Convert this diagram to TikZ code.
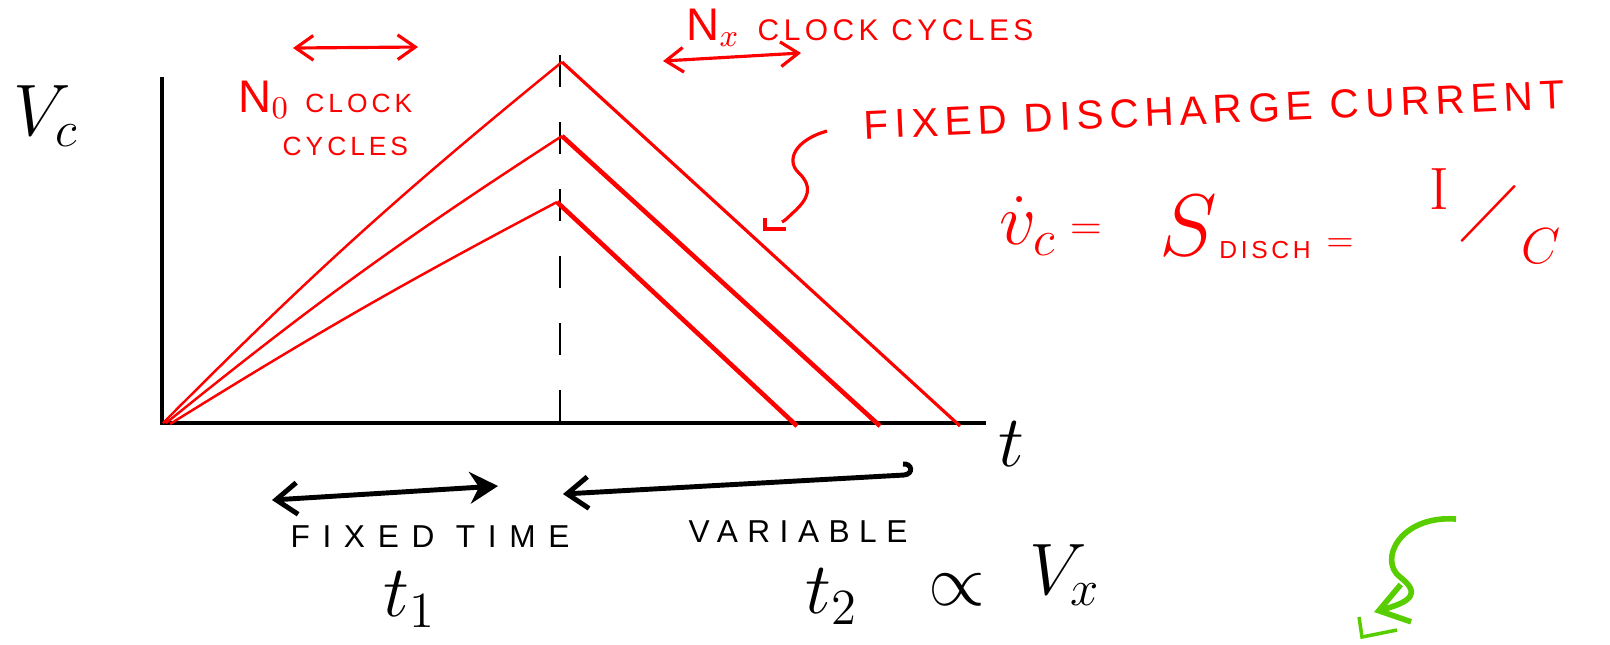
\documentclass[tikz,border=0pt]{standalone}
\usepackage{amsmath}
\usepackage{amssymb}
\usepackage{fontspec}
\newfontfamily\handfont[LetterSpace=15]{Liberation Sans}
\usetikzlibrary{arrows.meta}
\definecolor{penred}{RGB}{255,0,0}
\definecolor{pengreen}{RGB}{88,206,0}
\tikzset{
  axisline/.style={line width=1pt},
  riseline/.style={penred, line width=0.7pt},
  fallline/.style={penred, line width=1.3pt},
  redlabel/.style={text=penred, inner sep=0pt, font=\handfont\fontsize{7.5}{7.5}\selectfont},
  blacklabel/.style={inner sep=0pt, font=\handfont\fontsize{9}{9}\selectfont},
  redspan/.style={penred, line width=0.9pt, {Straight Barb[length=5pt,width=7pt]}-{Straight Barb[length=5pt,width=7pt]}},
  blackspan/.style={line width=1.4pt}
}

\begin{document}
\begin{tikzpicture}[x=0.01cm, y=-0.01cm]
        \useasboundingbox (0,0) rectangle (1610,644);
        % axes
        \coordinate (origin) at (162,423);
        \coordinate (ytop) at (162,77);
        \coordinate (xend) at (986,423);
        \draw[axisline] (ytop) -- (origin) -- (xend);
        \node[inner sep=0pt] (vc) at (46,116) {\fontsize{22}{22}\selectfont $V_c$};
        \node[inner sep=0pt] (taxis) at (1011,444) {\fontsize{20}{20}\selectfont $t$};
        % end of the fixed time
        \coordinate (dtop) at (560,55);
        \coordinate (dbot) at (560,421);
        \draw[line width=0.6pt, dash pattern=on 0.32cm off 0.35cm] (dtop) -- (dbot);
        % ramps up and down
        \coordinate (startA) at (163,423);
        \coordinate (startB) at (166,423);
        \coordinate (startC) at (170,424);
        \coordinate (peakA) at (562,62);
        \coordinate (peakB) at (562,136);
        \coordinate (peakC) at (557,202);
        \coordinate (endA) at (960,426);
        \coordinate (endB) at (880,426);
        \coordinate (endC) at (797,426);
        \draw[riseline] (startA) to[bend left=3] (peakA);
        \draw[riseline] (startB) to[bend left=3] (peakB);
        \draw[riseline] (startC) to[bend left=2] (peakC);
        \draw[fallline, line width=0.9pt] (peakA) -- (endA);
        \draw[fallline] (peakB) -- (endB);
        \draw[fallline] (peakC) -- (endC);
        % clock counts
        \coordinate (nzl) at (293,48);
        \coordinate (nzr) at (418,47);
        \draw[redspan] (nzl) -- (nzr);
        \node[redlabel, anchor=west] (nzero) at (238,100) {{\fontsize{13}{13}\selectfont N$_0$}\, CLOCK};
        \node[redlabel, anchor=west] (nzcyc) at (282,146) {CYCLES};
        \coordinate (nxl) at (663,61);
        \coordinate (nxr) at (801,53);
        \draw[redspan] (nxl) -- (nxr);
        \node[redlabel, anchor=west, font=\handfont\fontsize{8.5}{8.5}\selectfont] (nx) at (686,28) {{\fontsize{13}{13}\selectfont N$_x$}\, CLOCK CYCLES};
        % discharge note
        \node[redlabel, rotate=2.5, font=\handfont\fontsize{11.5}{11.5}\selectfont] (fixdis) at (1214,110) {FIXED DISCHARGE CURRENT};
        \coordinate (sqtop) at (827,131);
        \coordinate (sqend) at (782,222);
        \draw[penred, line width=0.9pt] (sqtop) .. controls (795,140) and (786,160) .. (798,172)
                .. controls (815,188) and (806,200) .. (796,210) .. controls (788,217) and (786,220) .. (sqend);
        \draw[penred, line width=0.9pt] (765,218) -- (765,229) -- (786,229);
        % slope
        \node[text=penred, inner sep=0pt] (vdot) at (1028,226) {\fontsize{20}{20}\selectfont $\dot{v}_c$};
        \node[text=penred, inner sep=0pt] (eqa) at (1086,232) {\fontsize{13}{13}\selectfont $=$};
        \node[text=penred, inner sep=0pt] (sdis) at (1188,226) {\fontsize{24}{24}\selectfont $S$};
        \node[redlabel, font=\handfont\fontsize{7}{7}\selectfont] (disch) at (1265,250) {DISCH};
        \node[text=penred, inner sep=0pt] (eqb) at (1340,245) {\fontsize{10}{10}\selectfont $=$};
        \node[text=penred, inner sep=0pt] (icur) at (1439,189) {\fontsize{17}{17}\selectfont I};
        \node[text=penred, inner sep=0pt, rotate=-25] (slash) at (1489,214) {\fontsize{21}{21}\selectfont /};
        \node[text=penred, inner sep=0pt] (ccap) at (1541,246) {\fontsize{15}{15}\selectfont $C$};
        % time spans
        \coordinate (fixl) at (272,500);
        \coordinate (fixr) at (498,486);
        \draw[blackspan, {Straight Barb[length=6pt,width=9pt]}-{Stealth[length=8pt,width=9pt]}] (fixl) -- (fixr);
        \coordinate (varl) at (563,494);
        \coordinate (varr) at (904,475);
        \draw[blackspan, {Straight Barb[length=6pt,width=9pt]}-] (varl) -- (varr) .. controls (914,474) and (912,463) .. (903,464);
        \node[blacklabel, font=\handfont\addfontfeature{LetterSpace=40}\fontsize{9}{9}\selectfont] (fixtime) at (430,537) {FIXED TIME};
        \node[blacklabel, font=\handfont\addfontfeature{LetterSpace=30}\fontsize{9}{9}\selectfont] (variable) at (798,532) {VARIABLE};
        \node[inner sep=0pt] (tone) at (410,600) {\fontsize{20}{20}\selectfont $t_1$};
        \node[inner sep=0pt] (ttwo) at (832,597) {\fontsize{20}{20}\selectfont $t_2$};
        \node[inner sep=0pt] (prop) at (957,590) {\fontsize{20}{20}\selectfont $\propto$};
        \node[inner sep=0pt] (vx) at (1065,575) {\fontsize{20}{20}\selectfont $V_x$};
        % green arrow
        \coordinate (gstart) at (1456,519);
        \coordinate (gtip) at (1374,612);
        \draw[pengreen, line width=1.6pt, -{Straight Barb[length=8pt,width=11pt]}] (gstart) .. controls (1400,515) and (1378,560) .. (1400,577)
                .. controls (1422,594) and (1410,602) .. (gtip);
        \draw[pengreen, line width=1pt] (1359,617) -- (1362,637) -- (1397,630);
\end{tikzpicture}
\end{document}
